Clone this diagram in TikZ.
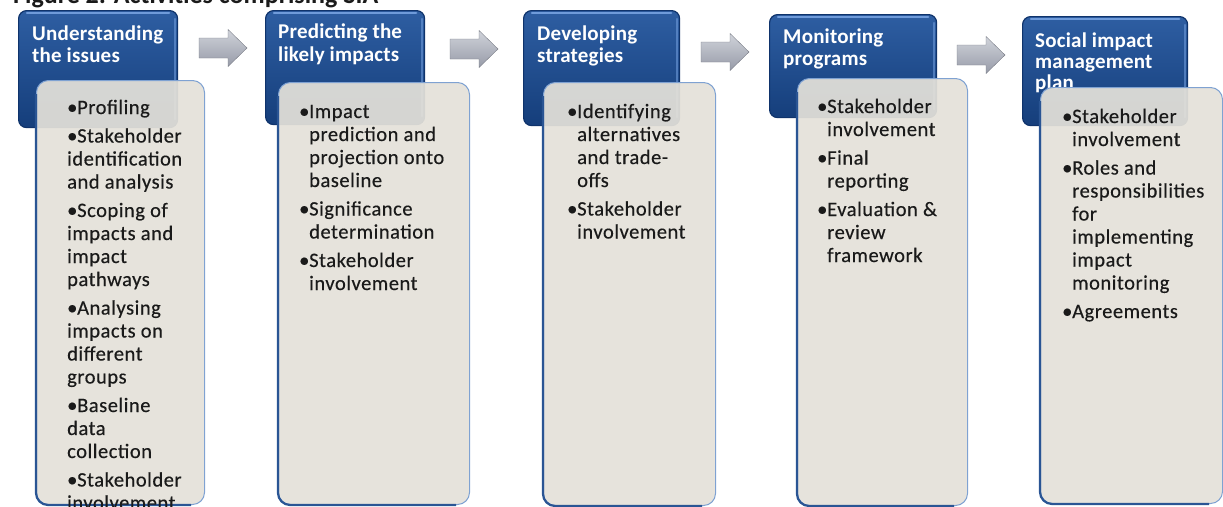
\documentclass[tikz,border=0pt]{standalone}
\usepackage{fontspec}
\setmainfont{Carlito}
\newfontfamily\bodyfont[LetterSpace=2.6, FakeBold=0.4]{Carlito}
\newfontfamily\headfont[LetterSpace=1.0]{Carlito}
\usetikzlibrary{calc}

\definecolor{hdrtop}{HTML}{2E5EA2}
\definecolor{hdrbot}{HTML}{153E7B}
\definecolor{hdrline}{HTML}{0F336B}
\definecolor{hdrgloss}{HTML}{6F9BDA}
\definecolor{bodyfill}{HTML}{E4E1D9}
\definecolor{bodydark}{HTML}{2A5594}
\definecolor{bodylight}{HTML}{7FA2D2}
\definecolor{arrtop}{HTML}{D0D3DA}
\definecolor{arrbot}{HTML}{979BA8}
\definecolor{inktext}{HTML}{1A1A1A}

% list lines: bullet line, indented continuation line, plain line, gap between items
\newcommand{\bitem}[1]{\hbox{\makebox[10pt][l]{\textbullet}#1}}
\newcommand{\contline}[1]{\hbox{\hspace*{10pt}#1}}
\newcommand{\plainline}[1]{\hbox{#1}}
\newcommand{\itemgap}{\vskip5.5pt}
\newcommand{\linestack}[2]{\vtop{\baselineskip=#1\lineskiplimit=-50pt\lineskip=0pt #2}}

\begin{document}
\begin{tikzpicture}[x=1pt,y=-1pt,
  hdr/.style={rounded corners=8pt, top color=hdrtop, bottom color=hdrbot,
    draw=hdrline, line width=1.2pt, anchor=north west, inner sep=0},
  gloss/.style={draw=hdrgloss, line width=2.2pt, line cap=round},
  body/.style={rounded corners=12pt, fill=bodyfill, fill opacity=0.93,
    draw=bodylight, draw opacity=1, line width=1pt, anchor=north west, inner sep=0},
  bodyedge/.style={draw=bodydark, line width=2.2pt, rounded corners=12pt},
  hdrtext/.style={anchor=base west, inner sep=0, text=white,
    font=\headfont\bfseries\fontsize{21}{22}\selectfont},
  bodytext/.style={anchor=base west, inner sep=0, text=inktext,
    font=\bodyfont\fontsize{20.5}{23}\selectfont},
  flowarrow/.pic={
    \shade[top color=arrtop, bottom color=arrbot, draw=arrbot!80!black, line width=0.4pt]
      (-24,-10) -- (5,-10) -- (5,-18.5) -- (24,0) -- (5,18.5) -- (5,10) -- (-24,10) -- cycle;
  }]
\useasboundingbox (0,0) rectangle (1223,506);

% caption, mostly above the page edge
\node[anchor=base west, inner sep=0, text=inktext, font=\bfseries\fontsize{26}{30}\selectfont]
  (title) at (13,3) {Figure 2: Activities comprising SIA};

% stage headers
\node[hdr, minimum width=159pt, minimum height=117pt] (h1) at (18,10) {};
\node[hdr, minimum width=159pt, minimum height=114pt] (h2) at (265,10) {};
\node[hdr, minimum width=156pt, minimum height=115pt] (h3) at (523,10) {};
\node[hdr, minimum width=167pt, minimum height=103pt] (h4) at (769,14) {};
\node[hdr, minimum width=165pt, minimum height=109pt] (h5) at (1022,16) {};

% glossy top rim of each header
\foreach \h in {h1,h2,h3,h4,h5}{
  \draw[gloss] ($(\h.north west)+(9,3)$) -- ($(\h.north east)+(-9,3)$);
  \draw[gloss, draw opacity=0.6] ($(\h.north east)+(-3,9)$) -- ($(\h.south east)+(-3,-9)$);
}

\node[hdrtext] (t1) at (32,40) {\linestack{22pt}{\plainline{Understanding}\plainline{the issues}}};
\node[hdrtext] (t2) at (278,38) {\linestack{23pt}{\plainline{Predicting the}\plainline{likely impacts}}};
\node[hdrtext] (t3) at (537,40) {\linestack{22pt}{\plainline{Developing}\plainline{strategies}}};
\node[hdrtext] (t4) at (783,43) {\linestack{22pt}{\plainline{Monitoring}\plainline{programs}}};
\node[hdrtext] (t5) at (1035,47) {\linestack{21pt}{\plainline{Social impact}\plainline{management}\plainline{plan}}};

% arrows between stages
\pic (a1) at (223,48) {flowarrow};
\pic (a2) at (474,49) {flowarrow};
\pic (a3) at (725,52) {flowarrow};
\pic (a4) at (981,55) {flowarrow};

% activity panels
\node[body, minimum width=168pt, minimum height=424pt] (b1) at (36,80) {};
\node[body, minimum width=191pt, minimum height=422pt] (b2) at (278,82) {};
\node[body, minimum width=172pt, minimum height=423pt] (b3) at (543,82) {};
\node[body, minimum width=170pt, minimum height=427pt] (b4) at (797,78) {};
\node[body, minimum width=182pt, minimum height=416pt] (b5) at (1040,87) {};

% darker rim along the left and lower edges of each panel
\foreach \b in {b1,b2,b3,b4,b5}{
  \draw[bodyedge] ($(\b.north west)+(0,14)$) -- (\b.south west) -- ($(\b.south east)+(-14,0)$);
}

\node[bodytext] (l1) at (67,114) {\linestack{23pt}{%
  \bitem{Profiling}\itemgap
  \bitem{Stakeholder}\plainline{identification}\plainline{and analysis}\itemgap
  \bitem{Scoping of}\plainline{impacts and}\plainline{impact}\plainline{pathways}\itemgap
  \bitem{Analysing}\plainline{impacts on}\plainline{different}\plainline{groups}\itemgap
  \bitem{Baseline}\plainline{data}\plainline{collection}\itemgap
  \bitem{Stakeholder}\plainline{involvement}}};

\node[bodytext] (l2) at (299,118) {\linestack{23pt}{%
  \bitem{Impact}\contline{prediction and}\contline{projection onto}\contline{baseline}\itemgap
  \bitem{Significance}\contline{determination}\itemgap
  \bitem{Stakeholder}\contline{involvement}}};

\node[bodytext] (l3) at (567,118) {\linestack{23pt}{%
  \bitem{Identifying}\contline{alternatives}\contline{and trade-}\contline{offs}\itemgap
  \bitem{Stakeholder}\contline{involvement}}};

\node[bodytext] (l4) at (817,113) {\linestack{23pt}{%
  \bitem{Stakeholder}\contline{involvement}\itemgap
  \bitem{Final}\contline{reporting}\itemgap
  \bitem{Evaluation \&}\contline{review}\contline{framework}}};

\node[bodytext] (l5) at (1062,123) {\linestack{23pt}{%
  \bitem{Stakeholder}\contline{involvement}\itemgap
  \bitem{Roles and}\contline{responsibilities}\contline{for}\contline{implementing}\contline{impact}\contline{monitoring}\itemgap
  \bitem{Agreements}}};
\end{tikzpicture}
\end{document}
